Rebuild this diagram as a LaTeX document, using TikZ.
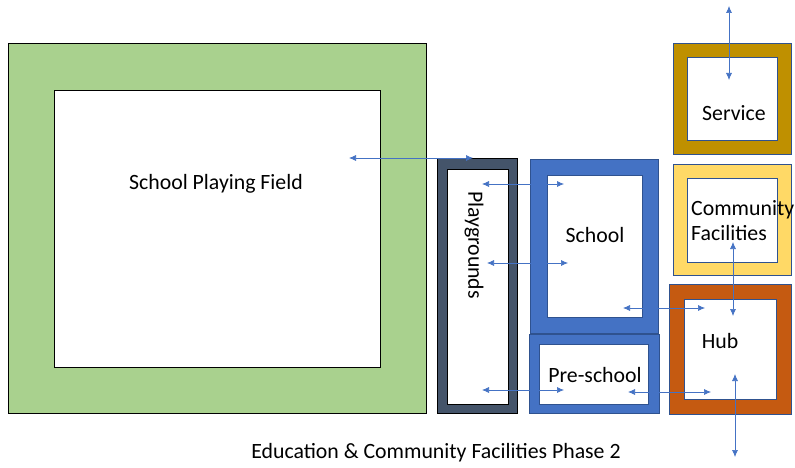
\documentclass[tikz,border=0pt]{standalone}
\usepackage{fontspec}
\setmainfont{Carlito}
\usetikzlibrary{arrows.meta}
\definecolor{fgreen}{HTML}{A9D18E}
\definecolor{fslate}{HTML}{44546A}
\definecolor{fblue}{HTML}{4472C4}
\definecolor{fgold}{HTML}{BF9000}
\definecolor{fyellow}{HTML}{FFD966}
\definecolor{forange}{HTML}{C55A11}
\definecolor{fedge}{HTML}{2F528F}
\tikzset{
  frame/.style={draw=fedge, line width=0.6pt},
  innerbox/.style={draw=fedge, fill=white, line width=0.6pt},
  lbl/.style={font=\fontsize{21.8}{25}\selectfont, inner sep=0pt},
  link/.style={draw=fblue, line width=0.7pt, {Latex[length=7pt,width=6pt]}-{Latex[length=7pt,width=6pt]}},
}
\begin{document}
\begin{tikzpicture}[x=1pt,y=-1pt]
\useasboundingbox (0,0) rectangle (795,468);
% School Playing Field
\filldraw[fill=fgreen, draw=black, line width=0.8pt] (8,43) rectangle (426,413);
\filldraw[fill=white, draw=black, line width=0.8pt] (54,90) rectangle (380,367);
% Playgrounds
\filldraw[frame, fill=fslate, draw=black] (437,158) rectangle (517,413);
\filldraw[innerbox, draw=black] (447,169) rectangle (508,404);
% School
\filldraw[frame, fill=fblue] (530,159) rectangle (658,333);
\filldraw[innerbox] (547,175) rectangle (642,317);
% Pre-school
\filldraw[frame, fill=fblue] (529,334) rectangle (659,413);
\filldraw[innerbox] (539,344) rectangle (648,404);
% Service
\filldraw[frame, fill=fgold] (673,43) rectangle (791,154);
\filldraw[innerbox] (687,57) rectangle (777,140);
% Community Facilities
\filldraw[frame, fill=fyellow] (673,164) rectangle (791,275);
\filldraw[innerbox] (687,178) rectangle (777,262);
% Hub
\filldraw[frame, fill=forange] (669,284) rectangle (791,414);
\filldraw[innerbox] (684,299) rectangle (776,399);

% labels
\node[lbl] (spf) at (216,184) {School Playing Field};
\node[lbl, rotate=-90] (pg) at (474,245) {Playgrounds};
\node[lbl] (sch) at (595,235) {School};
\node[lbl] (pre) at (595,375) {Pre-school};
\node[lbl] (srv) at (734,113) {Service};
\node[lbl, anchor=west, align=left] (cf) at (691,221) {Community\\Facilities};
\node[lbl] (hub) at (720,341) {Hub};
\node[lbl] (cap) at (436,453) {Education \& Community Facilities Phase 2};

% connectors
\coordinate (a1) at (349,158); \coordinate (b1) at (473,158);
\coordinate (a2) at (482,184); \coordinate (b2) at (564,184);
\coordinate (a3) at (487,263); \coordinate (b3) at (568,263);
\coordinate (a4) at (623,308); \coordinate (b4) at (705,308);
\coordinate (a5) at (482,390); \coordinate (b5) at (564,390);
\coordinate (a6) at (628,392); \coordinate (b6) at (711,392);
\coordinate (a7) at (729,6); \coordinate (b7) at (729,80);
\coordinate (a8) at (733,242); \coordinate (b8) at (733,316);
\coordinate (a9) at (735,374); \coordinate (b9) at (735,457);
\foreach \i in {1,...,9} {\draw[link] (a\i) -- (b\i);}
\end{tikzpicture}
\end{document}
